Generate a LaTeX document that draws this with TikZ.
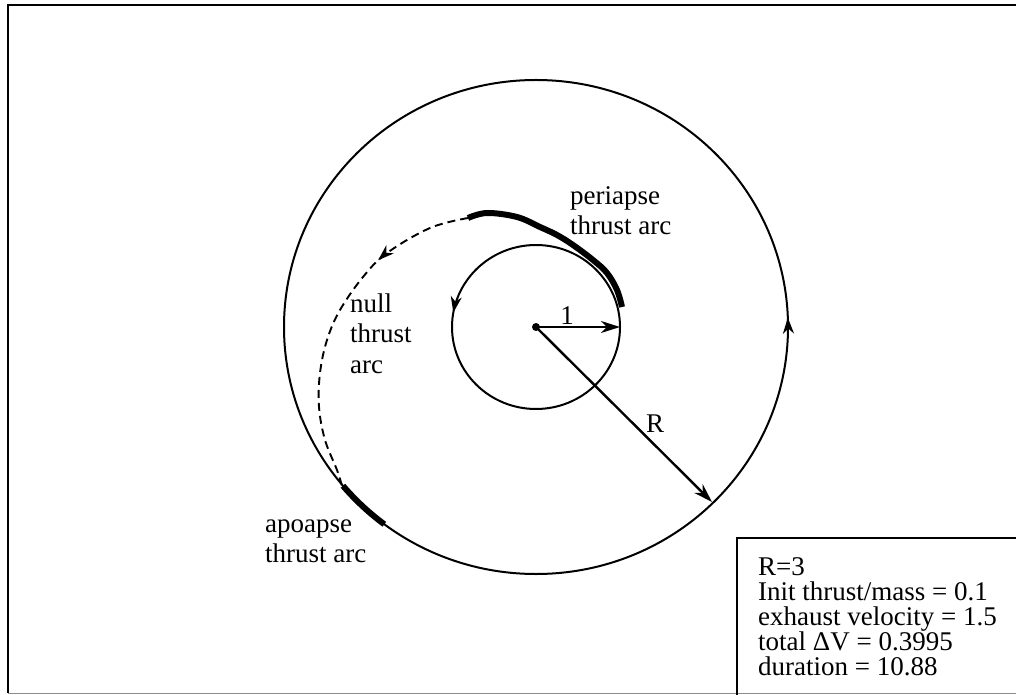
\documentclass[tikz,border=0pt]{standalone}
\usepackage{fontspec}
\setmainfont{Liberation Serif}
\usetikzlibrary{arrows.meta,decorations.markings}
\begin{document}
\begin{tikzpicture}[x=1pt,y=1pt,
  frame/.style={line width=2.5pt},
  orbit/.style={line width=2pt},
  thrustarc/.style={line width=6pt},
  coast/.style={line width=1.9pt, dash pattern=on 8pt off 5pt},
  radarrow/.style={line width=2pt, -{Stealth[length=19pt,width=12pt,inset=6pt]}},
  midtip/.style={postaction={decorate}, decoration={markings, mark=at position #1 with {\arrow{Stealth[length=16pt,width=11pt,inset=5pt]}}}},
  lbl/.style={font=\fontsize{27}{30}\selectfont, inner sep=0pt, align=left},
  boxtxt/.style={font=\fontsize{27}{25}\selectfont, inner sep=0pt, align=left}]
\useasboundingbox (0,0) rectangle (1016,694);
% frame
\draw[frame] (1016,689) -- (8,689) -- (8,1);
\draw[line width=1pt, black!45] (8,1) -- (1016,1);
% centre
\coordinate (O) at (536,367);
% inner and outer orbits
\draw[orbit, midtip=0.472] (O) ellipse[x radius=84, y radius=82];
\draw[orbit, midtip=0.006] (O) ellipse[x radius=252, y radius=247];
% periapse thrust arc
\draw[thrustarc] plot[smooth, tension=0.6] coordinates {(622,387) (617,404) (607,421) (593,434) (573,449) (557,459) (540,467) (517,477) (487,481) (468,476)};
% null thrust arc
\draw[coast, midtip=0.29] plot[smooth, tension=0.6] coordinates {(468,476) (430,466) (387,441) (363,417) (340,384) (327,354) (320,321) (319,287) (325,254) (337,224) (342,208)};
% apoapse thrust arc
\draw[thrustarc] (O) ++(220:252 and 247) arc[start angle=220, end angle=233, x radius=252, y radius=247];
% radii
\fill (O) circle[radius=4];
\coordinate (r1) at (620,367);
\coordinate (rR) at (712,192);
\draw[radarrow] (O) -- (r1);
\draw[radarrow, line width=2.4pt] (O) -- (rR);
\node[lbl, anchor=base] (one) at (567,369) {1};
\node[lbl, anchor=base] (Rl) at (655,262) {R};
% labels (base anchor = baseline of last line)
\node[lbl, anchor=base west] (peri) at (570,459) {periapse\\thrust arc};
\node[lbl, anchor=base west] (null) at (350,321) {null\\thrust\\arc};
\node[lbl, anchor=base west] (apo) at (265,132) {apoapse\\thrust arc};
% parameter box
\draw[orbit] (1020,156) -- (737,156) -- (737,-2);
\node[boxtxt, anchor=base west] (params) at (758,19) {R=3\\Init thrust/mass = 0.1\\exhaust velocity = 1.5\\total ΔV = 0.3995\\duration = 10.88};
\end{tikzpicture}
\end{document}
